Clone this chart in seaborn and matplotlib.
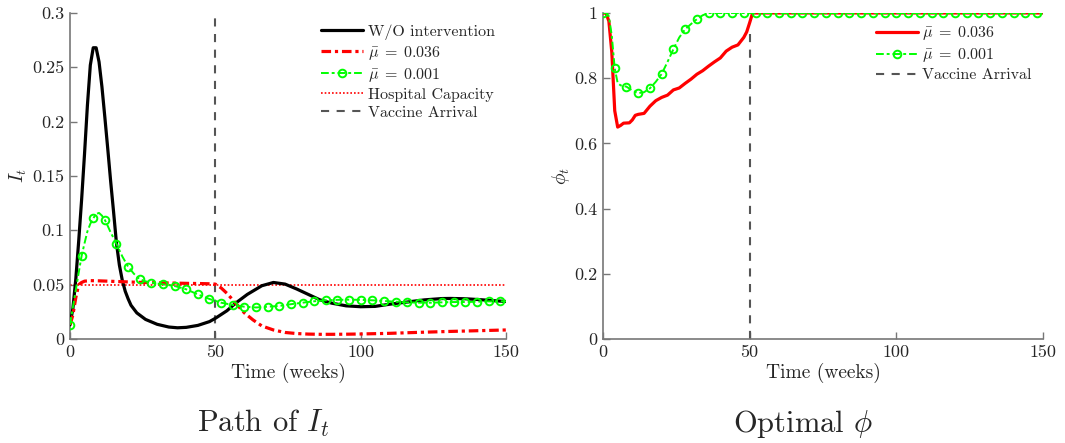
import matplotlib
matplotlib.use("Agg")
import matplotlib.pyplot as plt
import seaborn as sns

# ---- data: infections I_t ----
t_black = [0, 1, 2, 3, 4, 5, 6, 7, 8, 9, 10, 11, 12, 13, 14, 15, 16, 17, 18, 19, 20,
           21, 23, 26, 30, 34, 37, 40, 44, 48, 50, 54, 57, 61, 66, 70, 74, 78, 82,
           86, 90, 95, 100, 105, 110, 116, 122, 128, 131, 136, 141, 146, 150]
I_black = [0.013, 0.028, 0.055, 0.09, 0.128, 0.17, 0.215, 0.252, 0.268, 0.268, 0.255,
           0.232, 0.204, 0.175, 0.145, 0.117, 0.088, 0.068, 0.054, 0.044, 0.037,
           0.031, 0.024, 0.018, 0.0135, 0.011, 0.0103, 0.0107, 0.0125, 0.016, 0.019,
           0.026, 0.033, 0.041, 0.049, 0.052, 0.0505, 0.046, 0.041, 0.036, 0.033,
           0.0305, 0.0297, 0.030, 0.032, 0.034, 0.0360, 0.0372, 0.0373, 0.0370,
           0.0362, 0.0352, 0.0345]

t_red = [0, 1, 2, 3, 4, 5, 7, 10, 15, 20, 25, 30, 35, 40, 45, 48, 50, 52, 54, 56, 58,
         60, 63, 66, 70, 74, 78, 82, 86, 90, 95, 100, 110, 120, 130, 140, 150]
I_red = [0.013, 0.022, 0.038, 0.05, 0.052, 0.0532, 0.0537, 0.0535, 0.053, 0.0525,
         0.052, 0.0518, 0.0515, 0.0512, 0.051, 0.0508, 0.0505, 0.047, 0.042, 0.036,
         0.030, 0.024, 0.0175, 0.012, 0.0083, 0.006, 0.005, 0.0045, 0.0043, 0.0043,
         0.0044, 0.0046, 0.0052, 0.0061, 0.0069, 0.0076, 0.0083]

t_green = [0, 1, 2, 3, 4, 5, 6, 7, 8, 9, 10, 11, 12, 13, 14, 15, 16, 18, 20, 22, 24,
           26, 28, 32, 36, 40, 44, 48, 52, 56, 60, 64, 68, 72, 76, 80, 84, 88, 92,
           96, 100, 104, 108, 112, 116, 120, 124, 128, 132, 136, 140, 144, 148, 150]
I_green = [0.013, 0.029, 0.045, 0.061, 0.0764, 0.088, 0.099, 0.106, 0.111, 0.115,
           0.116, 0.1135, 0.1095, 0.104, 0.098, 0.093, 0.0874, 0.076, 0.0665, 0.060,
           0.055, 0.053, 0.0518, 0.0503, 0.0488, 0.0457, 0.041, 0.0368, 0.0334,
           0.0313, 0.0297, 0.029, 0.0297, 0.0304, 0.032, 0.0334, 0.0347, 0.0356,
           0.036, 0.0362, 0.036, 0.0356, 0.035, 0.0343, 0.0337, 0.0334, 0.0334,
           0.0337, 0.034, 0.034, 0.0343, 0.0346, 0.0347, 0.0347]

hosp_t = [0, 150]
hosp_cap = [0.05, 0.05]
vaccine_week = 50

# ---- data: optimal phi ----
t_phi_red = [0, 1, 2, 3, 4, 5, 6, 7, 9, 10, 11, 12, 14, 16, 18, 20, 22, 24, 26, 28,
             30, 32, 34, 36, 38, 40, 42, 44, 46, 48, 49, 50, 51, 150]
phi_red = [1.0, 1.0, 0.975, 0.88, 0.70, 0.65, 0.655, 0.662, 0.663, 0.672, 0.686,
           0.689, 0.692, 0.714, 0.731, 0.741, 0.748, 0.764, 0.770, 0.784, 0.797,
           0.812, 0.823, 0.837, 0.850, 0.862, 0.883, 0.895, 0.902, 0.925, 0.942,
           0.97, 1.0, 1.0]

t_phi_green = [0, 1, 2, 3, 4, 5, 6, 8, 10, 12, 14, 16, 18, 20, 22, 24, 26, 28, 30, 32,
               34, 36, 40, 44, 48, 52, 56, 60, 64, 68, 72, 76, 80, 84, 88, 92, 96, 100,
               104, 108, 112, 116, 120, 124, 128, 132, 136, 140, 144, 148, 150]
phi_green = [1.0, 1.0, 0.99, 0.93, 0.83, 0.785, 0.778, 0.774, 0.762, 0.754, 0.757,
             0.769, 0.789, 0.813, 0.85, 0.889, 0.925, 0.95, 0.966, 0.981, 0.993] + [1.0] * 30

left_yticks = [0, 0.05, 0.1, 0.15, 0.2, 0.25, 0.3]
left_ylabels = ["0", "0.05", "0.1", "0.15", "0.2", "0.25", "0.3"]
right_yticks = [0, 0.2, 0.4, 0.6, 0.8, 1]
right_ylabels = ["0", "0.2", "0.4", "0.6", "0.8", "1"]
xticks = [0, 50, 100, 150]
xlabels = ["0", "50", "100", "150"]

sns.set_style("ticks")
plt.rcParams['font.family'] = ['cmr10', 'DejaVu Serif']
plt.rcParams['mathtext.fontset'] = 'cm'
plt.rcParams['axes.formatter.use_mathtext'] = True

RED = '#ff0000'
GREEN = '#00ff00'
GRAY = '#555555'
AX = '#777777'
LINE_DASH = (0, (3.9, 3.6))
DASHDOT_THICK = (0, (3, 1.2, 1, 1.2))
DASHDOT_THIN = (0, (4, 1.5, 1.5, 1.5))

fig = plt.figure(figsize=(10.65, 4.43), dpi=100)
ax1 = fig.add_axes([0.0657, 0.2348, 0.4094, 0.7359])
ax2 = fig.add_axes([0.5662, 0.2348, 0.4131, 0.7359])

# left panel: path of I_t
ax1.axvline(vaccine_week, color=GRAY, lw=1.5, ls=LINE_DASH, zorder=1)
sns.lineplot(x=t_black, y=I_black, ax=ax1, color='black', lw=2.3,
             label='W/O intervention', zorder=3)
sns.lineplot(x=t_red, y=I_red, ax=ax1, color=RED, lw=2.3,
             linestyle=DASHDOT_THICK, label=r'$\bar{\mu}\;=\;0.036$', zorder=3)
mk = [i for i, t in enumerate(t_green) if t % 4 == 0]
sns.lineplot(x=t_green, y=I_green, ax=ax1, color=GREEN, lw=1.4,
             linestyle=DASHDOT_THIN, marker='o', ms=5.5, mfc='none',
             mec=GREEN, mew=1.4, markevery=mk, label=r'$\bar{\mu}\;=\;0.001$', zorder=4)
sns.lineplot(x=hosp_t, y=hosp_cap, ax=ax1, color=RED, lw=1.2,
             linestyle=(0, (1, 1.2)), label='Hospital Capacity', zorder=2)
ax1.plot([], [], color=GRAY, lw=1.5, ls=LINE_DASH, label='Vaccine Arrival')

# right panel: optimal phi
ax2.axvline(vaccine_week, ymax=0.94, color=GRAY, lw=1.5, ls=LINE_DASH, zorder=1)
sns.lineplot(x=t_phi_red, y=phi_red, ax=ax2, color=RED, lw=2.3,
             label=r'$\bar{\mu}\;=\;0.036$', zorder=3)
mk2 = [i for i, t in enumerate(t_phi_green) if t % 4 == 0]
sns.lineplot(x=t_phi_green, y=phi_green, ax=ax2, color=GREEN, lw=1.4,
             linestyle=DASHDOT_THIN, marker='o', ms=5.5, mfc='none',
             mec=GREEN, mew=1.4, markevery=mk2, label=r'$\bar{\mu}\;=\;0.001$', zorder=4)
ax2.plot([], [], color=GRAY, lw=1.5, ls=LINE_DASH, label='Vaccine Arrival')

for ax, yt, yl, lab, ylim in [(ax1, left_yticks, left_ylabels, r'$I_t$', 0.3),
                              (ax2, right_yticks, right_ylabels, r'$\phi_t$', 1.0)]:
    ax.set_xlim(0, 150)
    ax.set_ylim(0, ylim)
    ax.set_xticks(xticks)
    ax.set_xticklabels(xlabels)
    ax.set_yticks(yt)
    ax.set_yticklabels(yl)
    ax.tick_params(direction='in', length=5, width=1, colors=AX, labelcolor='#262626',
                   labelsize=13, pad=4)
    for s in ['top', 'right']:
        ax.spines[s].set_visible(False)
    for s in ['left', 'bottom']:
        ax.spines[s].set_color(AX)
        ax.spines[s].set_linewidth(1.2)
    ax.set_xlabel('Time (weeks)', fontsize=14, color='#262626', labelpad=2)
    ax.set_ylabel(lab, fontsize=14, color='#262626', labelpad=2)
    ax.legend(loc='upper right', frameon=False, fontsize=11.5, handlelength=2.6,
              handletextpad=0.3, labelspacing=0.25, borderaxespad=0.3)

fig.text(263 / 1065, 0.025, r'Path of $I_t$', fontsize=22, ha='center', va='baseline')
fig.text(803 / 1065, 0.025, r'Optimal $\phi$', fontsize=22, ha='center', va='baseline')

fig.savefig('out.png', dpi=100)
